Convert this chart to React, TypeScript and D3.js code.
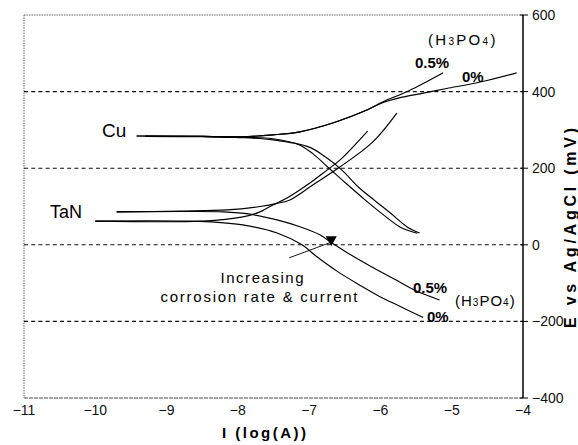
import React from 'react';
import * as d3 from 'd3';

const W = 578;
const H = 445;

const xTicks = [-11, -10, -9, -8, -7, -6, -5, -4];
const yTicks = [600, 400, 200, 0, -200, -400];
const gridValues = [400, 200, 0, -200];

// Cu, 0.5% H3PO4
const cu05AnodicX = [-9.42, -8.5, -7.97, -7.51, -7.13, -6.67, -6.19, -5.97, -5.6, -5.12];
const cu05AnodicE = [284, 283, 282, 287, 295, 318, 352, 373, 402, 449];
const cu05CathodicX = [-9.3, -8.5, -7.97, -7.51, -7.15, -6.95, -6.72, -6.48, -6.22, -5.97, -5.72, -5.48];
const cu05CathodicE = [284, 283, 281, 277, 262, 238, 200, 160, 118, 80, 46, 30];
// Cu, 0% H3PO4
const cu0AnodicX = [-9.42, -8.5, -7.97, -7.51, -7.13, -6.67, -6.19, -5.97, -5.75, -5.4, -5.07, -4.6, -4.09];
const cu0AnodicE = [284, 283, 282, 287, 295, 318, 352, 371, 383, 396, 408, 425, 449];
const cu0CathodicX = [-9.3, -8.5, -7.97, -7.51, -7.0, -6.77, -6.54, -6.31, -6.09, -5.86, -5.62, -5.45];
const cu0CathodicE = [283, 282, 280, 274, 255, 229, 195, 151, 117, 83, 46, 31];
// TaN, 0.5% H3PO4
const tan05AnodicX = [-9.7, -8.8, -8.15, -7.69, -7.45, -7.27, -6.95, -6.57, -6.11, -5.77];
const tan05AnodicE = [86, 88, 91, 100, 108, 117, 156, 203, 268, 344];
const tan05CathodicX = [-9.7, -8.8, -8.2, -7.83, -7.45, -7.13, -6.85, -6.68, -6.4, -6.1, -5.8, -5.5, -5.17];
const tan05CathodicE = [86, 87, 86, 80, 65, 47, 26, 5, -28, -60, -90, -120, -144];
// TaN, 0% H3PO4
const tan0AnodicX = [-10.0, -8.49, -7.93, -7.69, -7.55, -7.31, -7.03, -6.75, -6.57, -6.18];
const tan0AnodicE = [62, 62, 73, 86, 100, 122, 156, 195, 221, 297];
const tan0CathodicX = [-10.0, -8.8, -8.39, -7.93, -7.45, -7.1, -6.9, -6.6, -6.3, -6.0, -5.7, -5.4];
const tan0CathodicE = [62, 62, 60, 52, 31, 0, -30, -70, -104, -136, -163, -190];

// annotation arrow (data units)
const arrowX = [-7.28, -6.69];
const arrowE = [-34, 12];

const seriesX = [cu05AnodicX, cu05CathodicX, cu0AnodicX, cu0CathodicX, tan05AnodicX, tan05CathodicX, tan0AnodicX, tan0CathodicX];
const seriesE = [cu05AnodicE, cu05CathodicE, cu0AnodicE, cu0CathodicE, tan05AnodicE, tan05CathodicE, tan0AnodicE, tan0CathodicE];

const FONT = '"Liberation Sans", Arial, sans-serif';

export default function App() {
  const x = d3.scaleLinear().domain([-11, -4]).range([24, 523]);
  const y = d3.scaleLinear().domain([-400, 600]).range([398, 15]);
  const line = d3
    .line<[number, number]>()
    .x((d) => x(d[0]))
    .y((d) => y(d[1]))
    .curve(d3.curveCatmullRom.alpha(0.5));

  const paths = seriesX.map((xs, i) => line(xs.map((v, j) => [v, seriesE[i][j]] as [number, number])) || '');

  const tipX = x(arrowX[1]);
  const tipY = y(arrowE[1]) + 6;

  const sub = (t: string) => <tspan fontSize={10}>{t}</tspan>;

  return (
    <svg width={W} height={H} style={{ position: 'absolute', left: 0, top: 0, background: '#fff' }} fontFamily={FONT}>
      <rect x={0} y={0} width={W} height={H} fill="#fff" />
      {/* frame */}
      <line x1={x(-11)} x2={x(-4)} y1={y(600)} y2={y(600)} stroke="#666" strokeWidth={1} strokeDasharray="1.5,1" />
      <line x1={x(-11)} x2={x(-11)} y1={y(600)} y2={y(-400)} stroke="#666" strokeWidth={1} strokeDasharray="1.5,1" />
      <line x1={x(-11)} x2={x(-4)} y1={y(-400)} y2={y(-400)} stroke="#888" strokeWidth={1.4} strokeDasharray="4,1" />
      {/* grid */}
      {gridValues.map((v) => (
        <line key={v} x1={x(-11)} x2={x(-4)} y1={y(v)} y2={y(v)} stroke="#111" strokeWidth={1.1} strokeDasharray="4,3.2" />
      ))}
      {/* right axis */}
      <line x1={x(-4)} x2={x(-4)} y1={y(600)} y2={y(-400)} stroke="#000" strokeWidth={1.5} />
      {yTicks.map((v) => (
        <g key={v}>
          <line x1={x(-4) - 3} x2={x(-4) + 5} y1={y(v)} y2={y(v)} stroke="#000" strokeWidth={1} />
          <text x={x(-4) + 9} y={y(v)} dy="0.35em" fontSize={14} fill="#111">
            {v < 0 ? '\u2212' + Math.abs(v) : String(v)}
          </text>
        </g>
      ))}
      {xTicks.map((v) => (
        <text key={v} x={x(v)} y={415} textAnchor="middle" fontSize={14} fill="#111">
          {v < 0 ? '\u2212' + Math.abs(v) : String(v)}
        </text>
      ))}
      {/* axis titles */}
      <text x={264} y={438} textAnchor="middle" fontSize={15} fontWeight="bold" textLength={84} lengthAdjust="spacing">
        I (log(A))
      </text>
      <text
        transform={`translate(576,228) rotate(-90)`}
        textAnchor="middle"
        fontSize={16}
        fontWeight="bold"
        textLength={200}
        lengthAdjust="spacing"
      >
        E vs Ag/AgCl (mV)
      </text>
      {/* curves */}
      {paths.map((p, i) => (
        <path key={i} d={p} fill="none" stroke="#000" strokeWidth={1.15} />
      ))}
      {/* annotation arrow */}
      <line x1={x(arrowX[0])} y1={y(arrowE[0])} x2={tipX} y2={tipY - 4} stroke="#000" strokeWidth={0.9} />
      <path d={`M${tipX - 5.5},${tipY - 10}L${tipX + 5.5},${tipY - 10}L${tipX},${tipY}Z`} fill="#000" />
      {/* labels */}
      <text x={102} y={137} fontSize={19} fill="#000">Cu</text>
      <text x={50} y={218} fontSize={18} fill="#000">TaN</text>
      <text x={428} y={45} fontSize={15} fill="#000" letterSpacing={2.3}>
        (H{sub('3')}PO{sub('4')})
      </text>
      <text x={415} y={68} fontSize={15} fontWeight="bold" fill="#000">0.5%</text>
      <text x={462} y={82} fontSize={15} fontWeight="bold" fill="#000">0%</text>
      <text x={413} y={293} fontSize={15} fontWeight="bold" fill="#000">0.5%</text>
      <text x={455} y={306} fontSize={15} fill="#000" letterSpacing={1}>
        (H{sub('3')}PO{sub('4')})
      </text>
      <text x={427} y={322} fontSize={15} fontWeight="bold" fill="#000">0%</text>
      <text x={262} y={283} textAnchor="middle" fontSize={15} fill="#000" textLength={83} lengthAdjust="spacing">
        Increasing
      </text>
      <text x={259} y={302} textAnchor="middle" fontSize={15} fill="#000" textLength={197} lengthAdjust="spacing">
        corrosion rate &amp; current
      </text>
    </svg>
  );
}
